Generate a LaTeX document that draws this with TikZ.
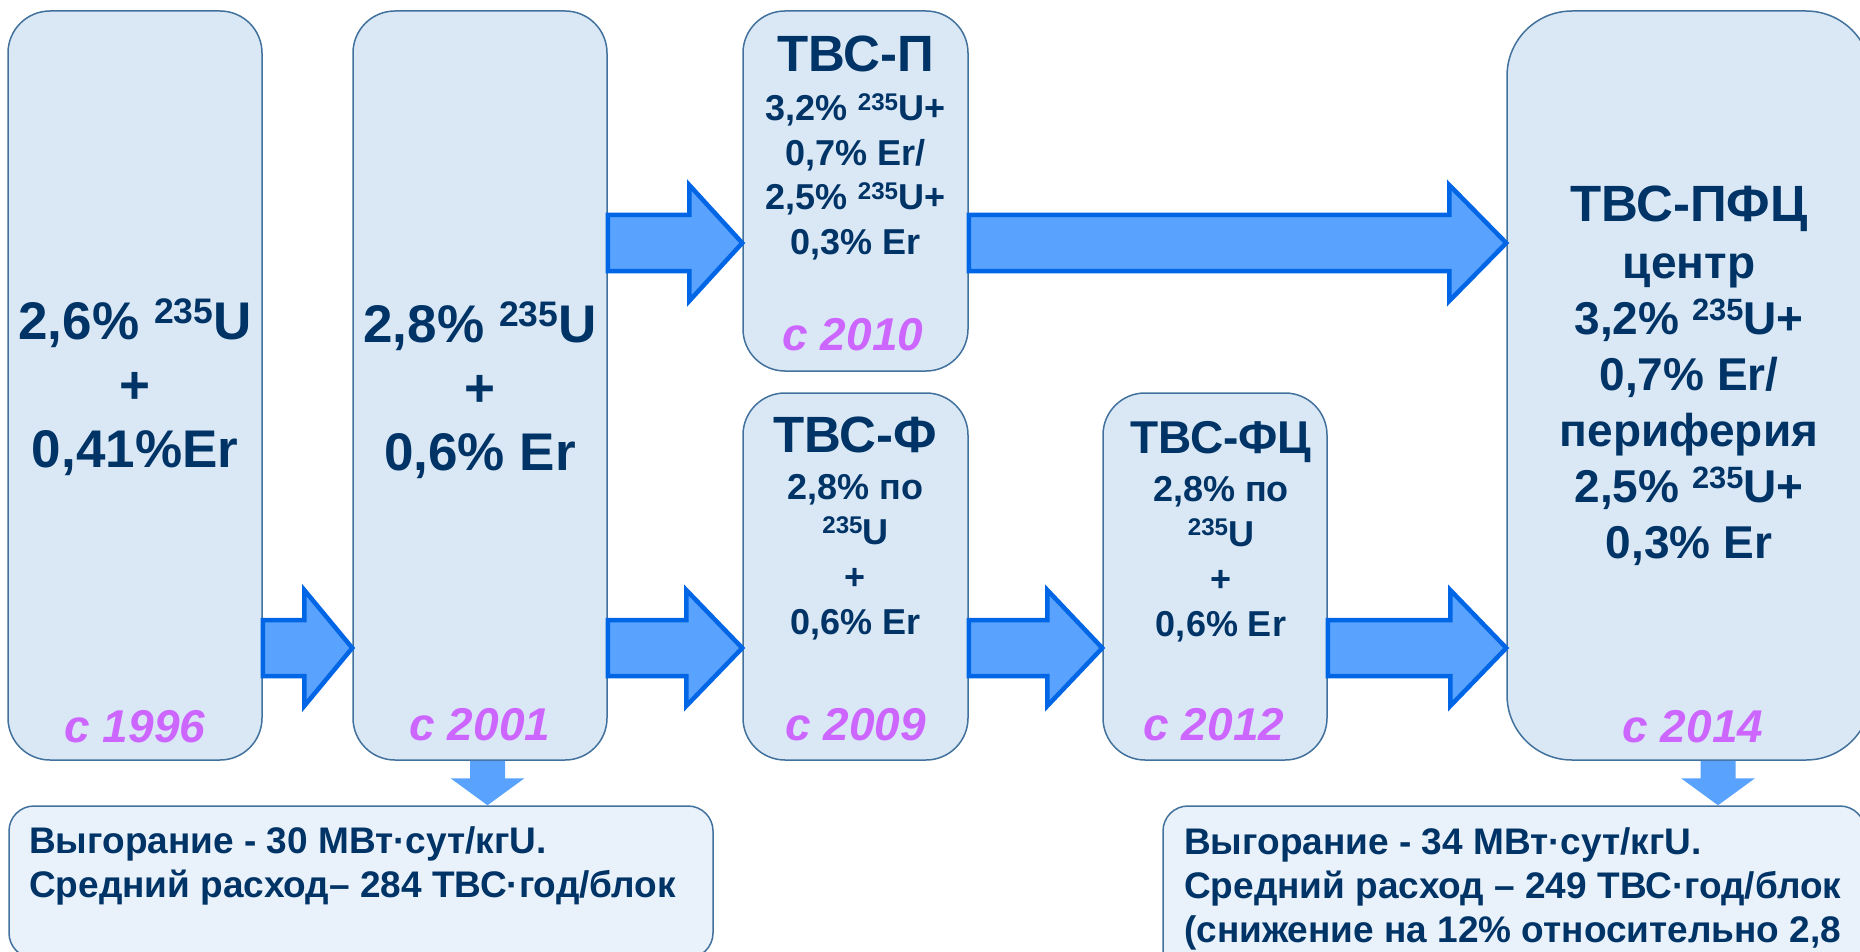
\documentclass[tikz,border=0pt]{standalone}
\usepackage{fontspec}
\setmainfont{Liberation Sans}
\usepackage{xcolor}
\usepackage{graphicx}
\usepackage{tikz}
\usetikzlibrary{positioning,calc}

\definecolor{boxfill}{RGB}{218,232,245}
\definecolor{boxline}{RGB}{65,113,156}
\definecolor{notefill}{RGB}{233,241,250}
\definecolor{arrfill}{RGB}{89,163,255}
\definecolor{arrline}{RGB}{0,102,230}
\definecolor{navy}{RGB}{0,51,102}
\definecolor{yearpink}{RGB}{204,102,255}

\newcommand{\iso}[1]{\raisebox{.3em}{\scalebox{.67}{#1}}}
\newcommand{\fatarrow}[4]{%
  \coordinate (lvl) at (0,#3);
  \coordinate (s) at (#1.east |- lvl);
  \coordinate (t) at (#2.west |- lvl);
  \draw[fat] ($(s)+(0,-28)$) -- ($(t)+(-#4,-28)$) -- ($(t)+(-#4,-58)$) -- (t)
    -- ($(t)+(-#4,58)$) -- ($(t)+(-#4,28)$) -- ($(s)+(0,28)$) -- cycle;
}
\newcommand{\droparrow}[3]{%
  \coordinate (lvl) at (#3,0);
  \coordinate (u) at (#1.south -| lvl);
  \coordinate (d) at (#2.north -| lvl);
  \fill[drop] ($(u)+(-17.5,0)$) -- ($(d)+(-17.5,-27)$) -- ($(d)+(-37,-27)$) -- (d)
    -- ($(d)+(37,-27)$) -- ($(d)+(17.5,-27)$) -- ($(u)+(17.5,0)$) -- cycle;
}

\begin{document}
\begin{tikzpicture}
[x=1pt, y=-1pt, font=\bfseries, text=navy,
    box/.style={draw=boxline, fill=boxfill, line width=1.5pt,
        rounded corners=42pt, inner sep=0pt},
    note/.style={box, fill=notefill, rounded corners=25pt},
    title/.style={font=\fontsize{51}{56}\selectfont\bfseries, anchor=base, inner sep=0pt},
    body/.style={align=center, anchor=north, inner sep=0pt},
    notetxt/.style={align=left, anchor=north west, inner sep=0pt,
        font=\fontsize{37}{44}\selectfont\bfseries},
    year/.style={font=\fontsize{46}{50}\selectfont\bfseries\itshape,
        text=yearpink, anchor=base, inner sep=0pt},
    fat/.style={fill=arrfill, draw=arrline, line width=4.5pt},
    drop/.style={fill=arrfill}
    ]
    \useasboundingbox (0,0) rectangle (1860,952);

    % fuel assemblies
    \node[box, minimum width=254pt, minimum height=749pt] (b1) at (135,385.5) {};
    \node[box, minimum width=254pt, minimum height=749pt] (b2) at (480,385.5) {};
    \node[box, minimum width=225pt, minimum height=360pt] (bp) at (855.5,191) {};
    \node[box, minimum width=225pt, minimum height=367pt] (bf) at (855.5,576.5) {};
    \node[box, minimum width=224pt, minimum height=367pt] (bfc) at (1215,576.5) {};
    \node[box, minimum width=364pt, minimum height=749pt, rounded corners=65pt] (bpfc) at (1689,385.5) {};

    % burnup notes
    \node[note, minimum width=704pt, minimum height=152pt] (n1) at (361,882) {};
    \node[note, minimum width=702pt, minimum height=194pt] (n2) at (1514,903) {};

    \node[body, font=\fontsize{53}{64}\selectfont\bfseries] (b1txt) at (135,299)
        {2,6\% \iso{235}U\\+\\0,41\%Er};
    \node[year] (b1yr) at (135,742) {с 1996};

    \node[body, font=\fontsize{53}{64}\selectfont\bfseries] (b2txt) at (480,302)
        {2,8\% \iso{235}U\\+\\0,6\% Er};
    \node[year] (b2yr) at (480,740) {с 2001};

    \node[title] (bptitle) at (855.5,72) {ТВС-П};
    \node[body, font=\fontsize{36}{44.5}\selectfont\bfseries] (bptxt) at (855.5,93)
        {3,2\% \iso{235}U+\\0,7\% Er/\\2,5\% \iso{235}U+\\0,3\% Er};
    \node[year] (bpyr) at (853,350) {с 2010};

    \node[title] (bftitle) at (855.5,452) {ТВС-Ф};
    \node[body, font=\fontsize{36}{45}\selectfont\bfseries] (bftxt) at (855.5,474)
        {2,8\% по\\\iso{235}U\\+\\0,6\% Er};
    \node[year] (bfyr) at (855.5,740) {с 2009};

    \node[title, font=\fontsize{46}{50}\selectfont\bfseries] (bfctitle) at (1221,453) {ТВС-ФЦ};
    \node[body, font=\fontsize{36}{45}\selectfont\bfseries] (bfctxt) at (1221,476)
        {2,8\% по\\\iso{235}U\\+\\0,6\% Er};
    \node[year] (bfcyr) at (1214,740) {с 2012};

    \node[title] (bpfctitle) at (1689,222) {ТВС-ПФЦ};
    \node[body, font=\fontsize{46}{56}\selectfont\bfseries] (bpfctxt) at (1689,253)
        {центр\\3,2\% \iso{235}U+\\0,7\% Er/\\периферия\\2,5\% \iso{235}U+\\0,3\% Er};
    \node[year] (bpfcyr) at (1693,742) {с 2014};

    \node[notetxt] (n1txt) at (29,826)
        {Выгорание - 30 МВт·сут/кгU.\\Средний расход– 284 ТВС·год/блок};
    \node[notetxt] (n2txt) at (1184,827)
        {Выгорание - 34 МВт·сут/кгU.\\Средний расход – 249 ТВС·год/блок\\(снижение на 12\% относительно 2,8};

    % arrows
    \fatarrow{b1}{b2}{648}{48}
    \fatarrow{b2}{bp}{243}{53}
    \fatarrow{b2}{bf}{648}{56}
    \fatarrow{bp}{bpfc}{243}{57}
    \fatarrow{bf}{bfc}{648}{55}
    \fatarrow{bfc}{bpfc}{648}{56}
    \droparrow{b2}{n1}{487.5}
    \droparrow{bpfc}{n2}{1718}
\end{tikzpicture}
\end{document}
